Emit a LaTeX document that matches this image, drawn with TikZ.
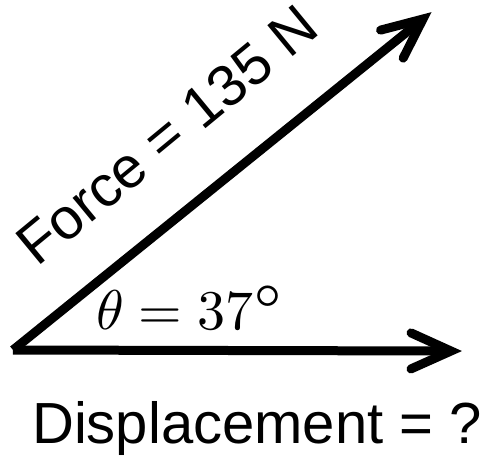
\documentclass[tikz,border=0pt]{standalone}
\usepackage{fontspec}
\usepackage{unicode-math}
\setmainfont{Liberation Sans}
\setmathfont{Latin Modern Math}
\newfontfamily\lmrfont{Latin Modern Roman}
\usetikzlibrary{calc}
\begin{document}
\begin{tikzpicture}[x=1pt,y=-1pt,
  vec/.style={line width=9pt,line cap=butt},
  barb/.style={line width=9pt,line cap=round,line join=miter},
  lbl/.style={inner sep=0pt,font=\fontsize{58}{60}\selectfont},
  mlbl/.style={inner sep=0pt,font=\fontsize{56}{60}\selectfont}]
\useasboundingbox (0,0) rectangle (487,456);
\coordinate (O) at (13,350);
\coordinate (F) at (423,19);
\coordinate (D) at (451,351);
% force arrow
\draw[vec] (O) -- (F);
\draw[barb] ($(F)!40pt!(O)!18pt!90:(F)$) -- (F) -- ($(F)!40pt!(O)!18pt!-90:(F)$);
% displacement arrow
\draw[vec] (O) -- (D);
\draw[barb] ($(D)!40pt!(O)!18pt!90:(D)$) -- (D) -- ($(D)!40pt!(O)!18pt!-90:(D)$);
% labels
\node[lbl,anchor=base west,rotate=39.5] (fl) at (37,268) {Force = 135 N};
\node[mlbl,anchor=base west] (th) at (96,329) {$\theta = 37$\raisebox{-10pt}{\scalebox{1.4}{\lmrfont °}}};
\node[lbl,anchor=base west] (dl) at (32,443) {Displacement = ?};
\end{tikzpicture}
\end{document}
